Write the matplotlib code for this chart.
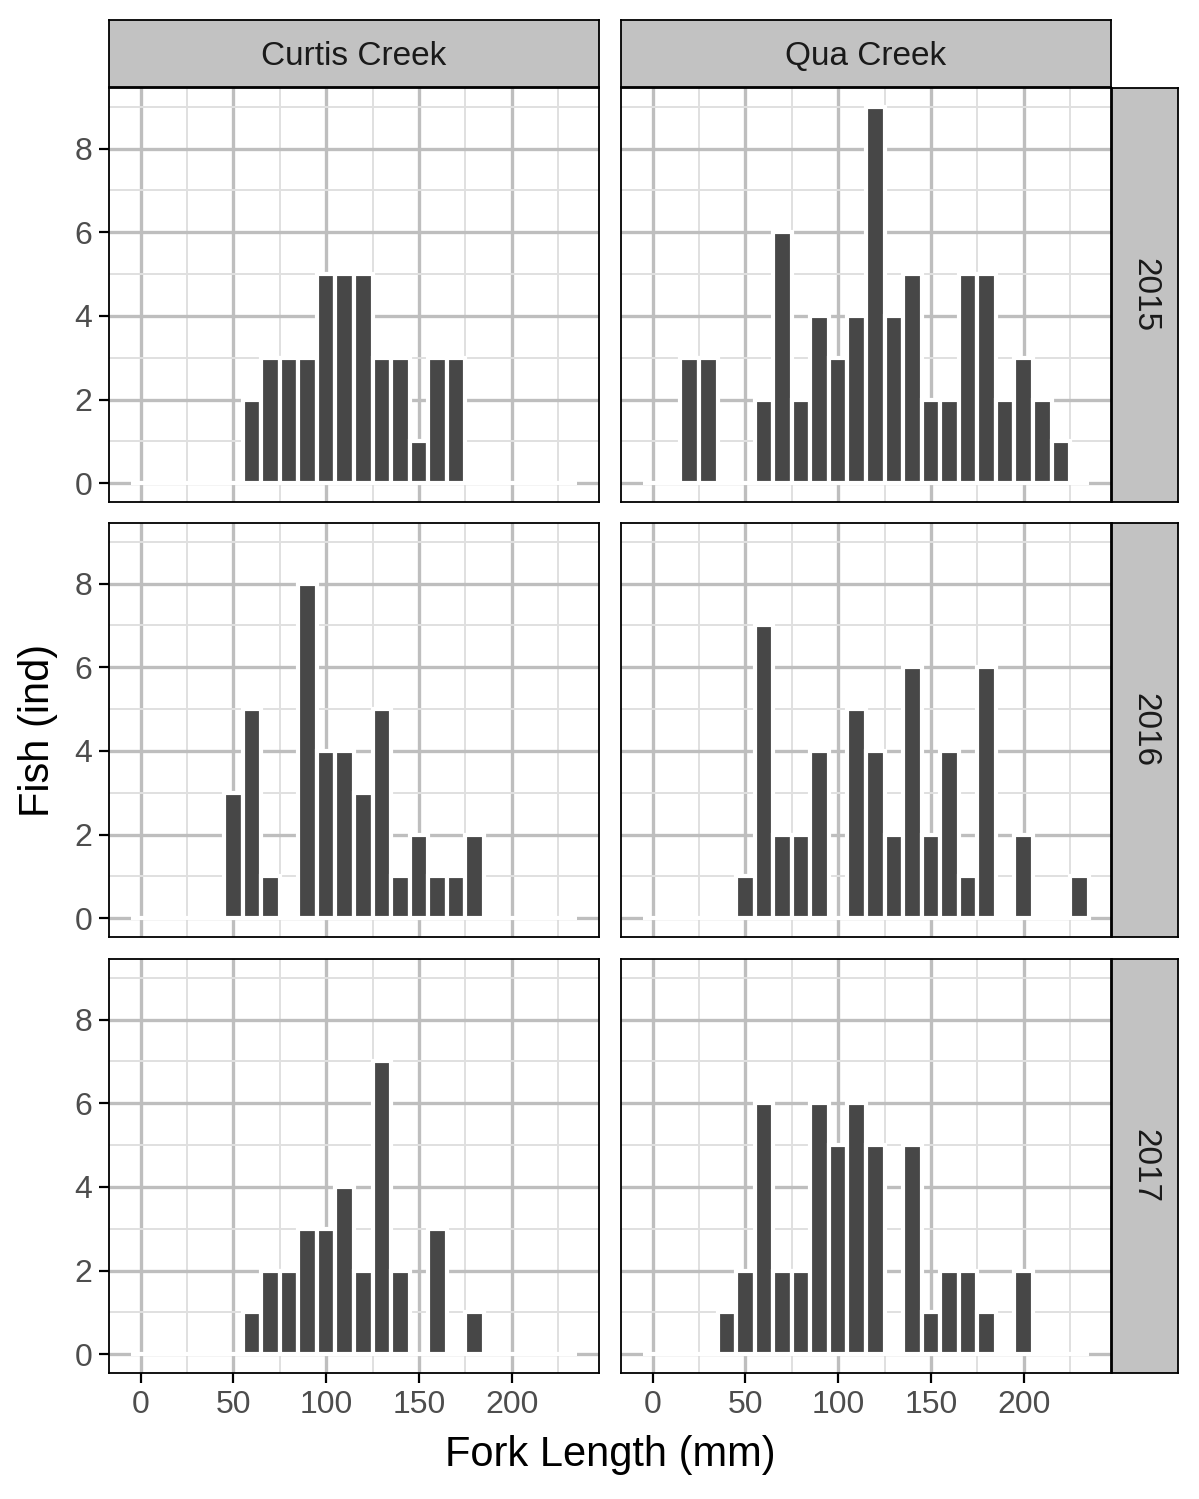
import numpy as np
import matplotlib
matplotlib.use("Agg")
import matplotlib.pyplot as plt

plt.rcParams['font.family'] = ['Liberation Sans', 'DejaVu Sans']

# bin mid points (10 mm bins) and counts per creek / year
bin_mids = np.arange(0, 240, 10)
curtis_2015 = [0, 0, 0, 0, 0, 0, 2, 3, 3, 3, 5, 5, 5, 3, 3, 1, 3, 3, 0, 0, 0, 0, 0, 0]
qua_2015 = [0, 0, 3, 3, 0, 0, 2, 6, 2, 4, 3, 4, 9, 4, 5, 2, 2, 5, 5, 2, 3, 2, 1, 0]
curtis_2016 = [0, 0, 0, 0, 0, 3, 5, 1, 0, 8, 4, 4, 3, 5, 1, 2, 1, 1, 2, 0, 0, 0, 0, 0]
qua_2016 = [0, 0, 0, 0, 0, 1, 7, 2, 2, 4, 0, 5, 4, 2, 6, 2, 4, 1, 6, 0, 2, 0, 0, 1]
curtis_2017 = [0, 0, 0, 0, 0, 0, 1, 2, 2, 3, 3, 4, 2, 7, 2, 0, 3, 0, 1, 0, 0, 0, 0, 0]
qua_2017 = [0, 0, 0, 0, 1, 2, 6, 2, 2, 6, 5, 6, 5, 0, 5, 1, 2, 2, 1, 0, 2, 0, 0, 0]

creeks = ["Curtis Creek", "Qua Creek"]
years = ["2015", "2016", "2017"]
counts = [[curtis_2015, qua_2015],
          [curtis_2016, qua_2016],
          [curtis_2017, qua_2017]]

x_ticks = [0, 50, 100, 150, 200]
y_ticks = [0, 2, 4, 6, 8]

W, H = 1199, 1499
fig = plt.figure(figsize=(W / 100, H / 100), dpi=100)


def px_axes(x0, y0, x1, y1):
    # pixel box (top-left origin) -> figure axes
    return fig.add_axes([x0 / W, 1 - y1 / H, (x1 - x0) / W, (y1 - y0) / H])


col_x = [(109, 599), (621, 1111)]
row_y = [(88, 502), (523, 937), (959, 1373)]
strip_col = "#C2C2C2"

for r in range(3):
    for c in range(2):
        ax = px_axes(col_x[c][0], row_y[r][0], col_x[c][1], row_y[r][1])
        ax.bar(bin_mids, counts[r][c], width=10, color="#474747",
               edgecolor="white", linewidth=3.0, zorder=3)
        ax.set_xlim(-17, 247)
        ax.set_ylim(-0.45, 9.45)
        ax.set_xticks(x_ticks)
        ax.set_yticks(y_ticks)
        ax.set_xticks([25, 75, 125, 175, 225], minor=True)
        ax.set_yticks([1, 3, 5, 7, 9], minor=True)
        ax.grid(which="major", color="#BEBEBE", linewidth=2.4, zorder=0)
        ax.grid(which="minor", color="#E0E0E0", linewidth=1.4, zorder=0)
        ax.set_axisbelow(True)
        for s in ax.spines.values():
            s.set_linewidth(1.3)
            s.set_color("black")
        ax.tick_params(which="minor", length=0)
        ax.tick_params(which="major", length=7, width=1.6, color="black",
                       labelsize=23, labelcolor="#4D4D4D", pad=5)
        if r < 2:
            ax.tick_params(axis="x", length=0, labelbottom=False)
        if c > 0:
            ax.tick_params(axis="y", length=0, labelleft=False)

# column strips
for c in range(2):
    sax = px_axes(col_x[c][0], 20, col_x[c][1], 87)
    sax.set_facecolor(strip_col)
    sax.set_xticks([])
    sax.set_yticks([])
    for s in sax.spines.values():
        s.set_linewidth(1.3)
    sax.text(0.5, 0.45, creeks[c], ha="center", va="center", fontsize=24,
             color="#1A1A1A", transform=sax.transAxes)

# row strips
for r in range(3):
    sax = px_axes(1112, row_y[r][0], 1178, row_y[r][1])
    sax.set_facecolor(strip_col)
    sax.set_xticks([])
    sax.set_yticks([])
    for s in sax.spines.values():
        s.set_linewidth(1.3)
    sax.text(0.5, 0.5, years[r], ha="center", va="center", fontsize=24,
             rotation=-90, color="#1A1A1A", transform=sax.transAxes)

fig.text(610 / W, 1 - 1455 / H, "Fork Length (mm)", ha="center", va="center",
         fontsize=30)
fig.text(38 / W, 1 - 730 / H, "Fish (ind)", ha="center", va="center",
         fontsize=30, rotation=90)

fig.savefig("out.png", dpi=100)
